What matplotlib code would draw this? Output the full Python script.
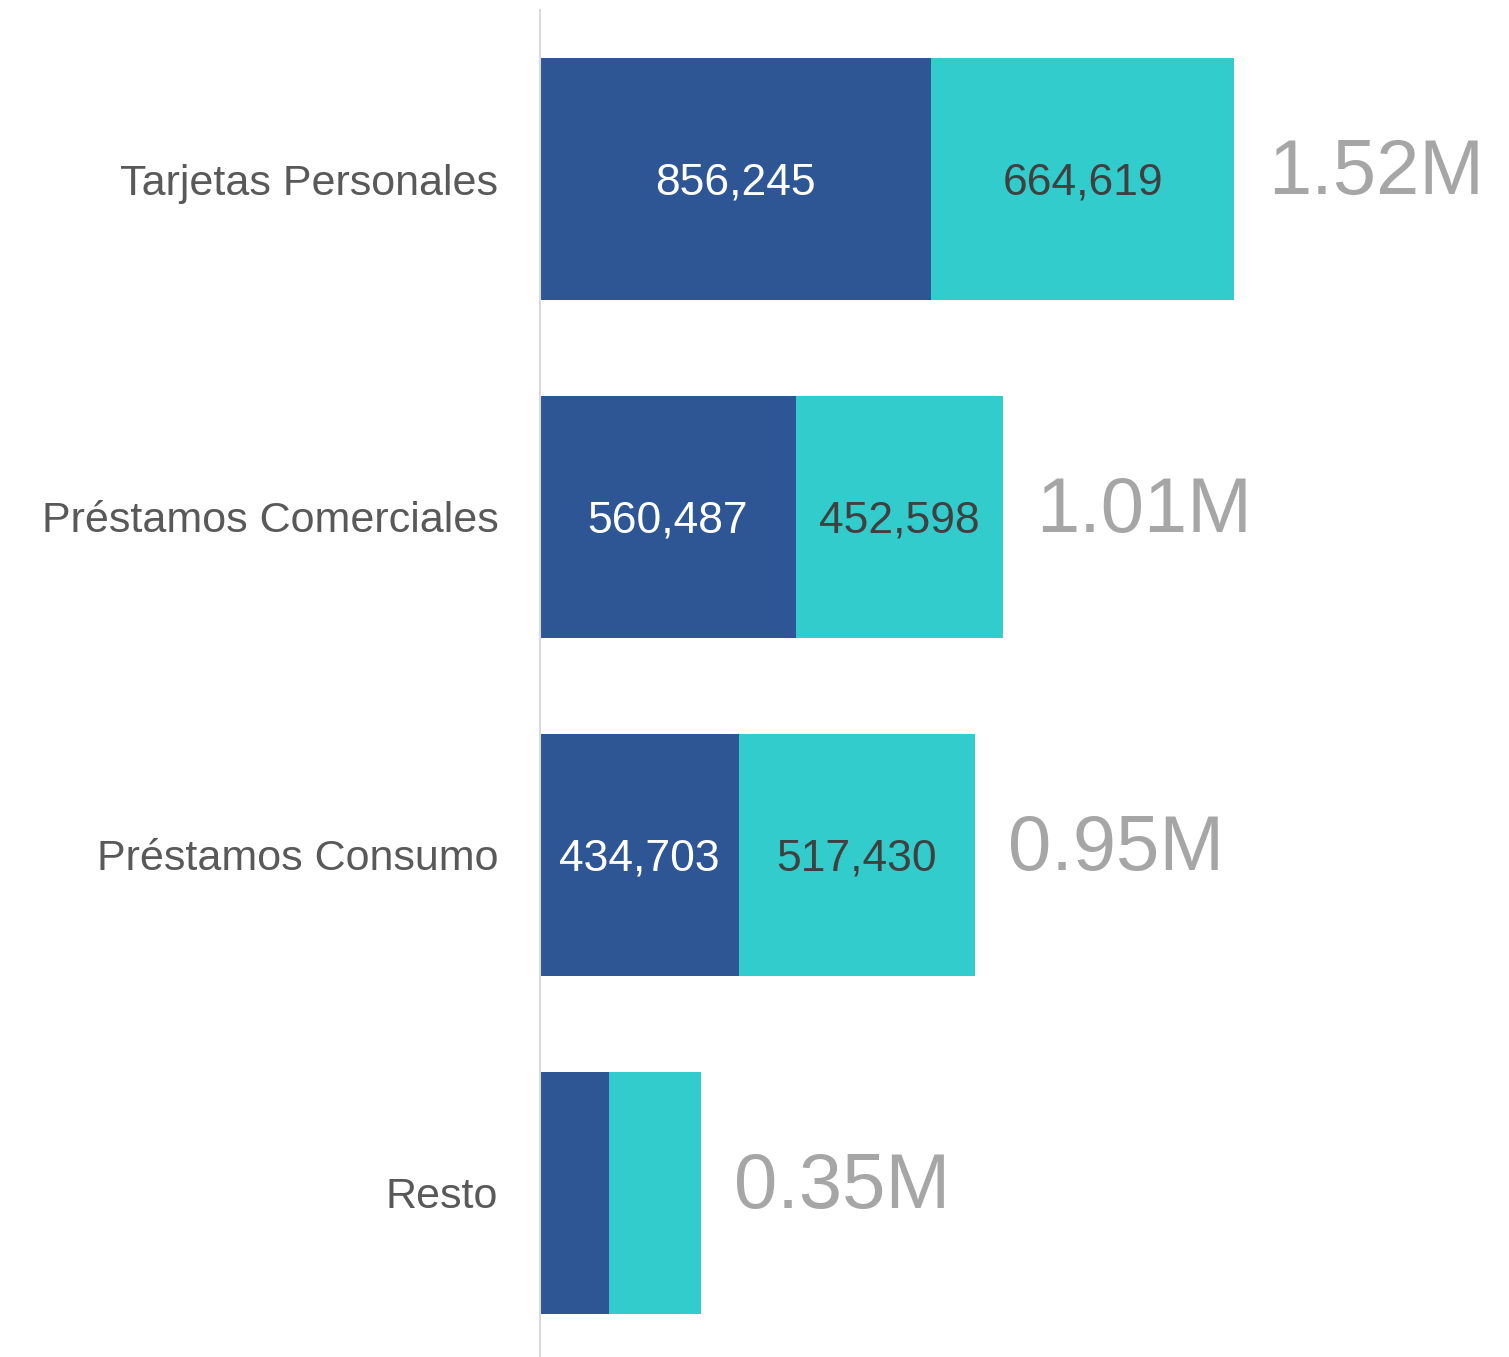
import matplotlib.pyplot as plt

plt.rcParams['font.family'] = ['Liberation Sans', 'DejaVu Sans']

categories = ["Tarjetas Personales", "Préstamos Comerciales", "Préstamos Consumo", "Resto"]
serie_a = [856245, 560487, 434703, 151000]
serie_b = [664619, 452598, 517430, 201000]
show_values = [True, True, True, False]

dark = "#2E5594"
cyan = "#33CCCC"

fig = plt.figure(figsize=(15.09, 13.57), dpi=100)
ax = fig.add_axes([540 / 1509, 0, 969 / 1509, 1347 / 1357])

y = range(len(categories))
h = 0.716
ax.barh(y, serie_a, height=h, color=dark)
ax.barh(y, serie_b, left=serie_a, height=h, color=cyan)

for i in y:
    a, b = serie_a[i], serie_b[i]
    if show_values[i]:
        ax.text(a / 2, i, f"{a:,}", ha="center", va="center_baseline", fontsize=32, color="white")
        ax.text(a + b / 2, i, f"{b:,}", ha="center", va="center_baseline", fontsize=32, color="#404040")
    total = a + b
    ax.annotate(f"{total / 1e6:.2f}M", (total, i), xytext=(24, 4), textcoords="offset points",
                ha="left", va="center", fontsize=56, color="#A6A6A6")

ax.set_xlim(0, 2122000)
ax.set_ylim(3.5 - 5 / 338, -0.5)
ax.set_yticks(list(y))
ax.set_yticklabels(categories, fontsize=31, color="#595959")
ax.tick_params(axis="y", length=0, pad=30)
ax.set_xticks([])
for s in ["top", "right", "bottom"]:
    ax.spines[s].set_visible(False)
ax.spines["left"].set_color("#D9D9D9")
ax.spines["left"].set_linewidth(1.5)

fig.savefig("out.png", dpi=100)
